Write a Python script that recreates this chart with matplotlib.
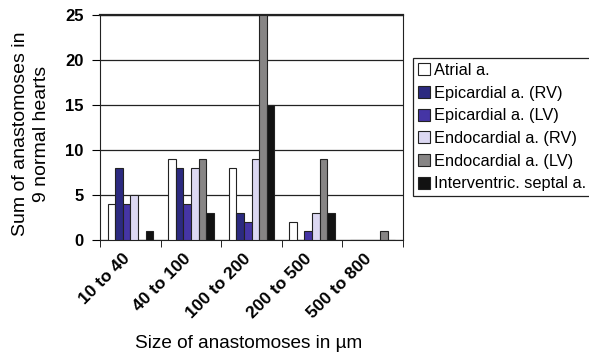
import numpy as np
import matplotlib.pyplot as plt
import matplotlib.transforms as mtransforms

plt.rcParams['font.family'] = ['Liberation Sans', 'DejaVu Sans']

categories = ["10 to 40", "40 to 100", "100 to 200", "200 to 500", "500 to 800"]
series_names = ["Atrial a.", "Epicardial a. (RV)", "Epicardial a. (LV)",
                "Endocardial a. (RV)", "Endocardial a. (LV)", "Interventric. septal a."]
atrial = [4, 9, 8, 2, 0]
epi_rv = [8, 8, 3, 0, 0]
epi_lv = [4, 4, 2, 1, 0]
endo_rv = [5, 8, 9, 3, 0]
endo_lv = [0, 9, 25, 9, 1]
septal = [1, 3, 15, 3, 0]

series = [atrial, epi_rv, epi_lv, endo_rv, endo_lv, septal]
colors = ["#ffffff", "#2c2a80", "#4535a5", "#dcd8f2", "#878585", "#121212"]

fig = plt.figure(figsize=(5.89, 3.54), dpi=100)
ax = fig.add_axes([0.170, 0.322, 0.514, 0.636])

x = np.arange(len(categories))
w = 0.126
for i, (vals, c, name) in enumerate(zip(series, colors, series_names)):
    ax.bar(x + (i - 2.5) * w, vals, width=w, color=c, edgecolor="#222222",
           linewidth=0.8, label=name, zorder=3)

ax.set_xlim(-0.5, len(categories) - 0.5)
ax.set_ylim(0, 25)
ax.set_yticks([0, 5, 10, 15, 20, 25])
ax.yaxis.grid(True, color="#222222", linewidth=0.9, zorder=0)
for s in ax.spines.values():
    s.set_color("#222222")
ax.spines['top'].set_linewidth(1.6)

# category labels sit between the group tick marks
ax.set_xticks(x)
ax.set_xticklabels(categories, rotation=45, ha='right', rotation_mode='anchor',
                   fontsize=12.5, fontweight='bold')
ax.tick_params(axis='x', which='major', length=0, pad=8)
shift = mtransforms.ScaledTranslation(-6 / 72, 0, fig.dpi_scale_trans)
for t in ax.get_xticklabels():
    t.set_transform(t.get_transform() + shift)
ax.set_xticks(np.arange(len(categories) + 1) - 0.5, minor=True)
ax.tick_params(axis='x', which='minor', length=5, direction='out')
ax.tick_params(axis='y', length=6, direction='out', labelsize=12, pad=6)
for t in ax.get_yticklabels():
    t.set_fontweight('bold')

ax.set_ylabel("Sum of anastomoses in\n9 normal hearts", fontsize=14, linespacing=1.3)
ax.yaxis.set_label_coords(-0.165, 0.471)
ax.set_xlabel("Size of anastomoses in µm", fontsize=13.7)
ax.xaxis.label.set_va('baseline')
ax.xaxis.set_label_coords(0.49, -0.48)

leg = ax.legend(loc='upper left', bbox_to_anchor=(0.701, 0.836),
                bbox_transform=fig.transFigure, fontsize=11.8, frameon=True,
                fancybox=False, edgecolor='#222222', framealpha=1,
                handlelength=0.73, handleheight=0.73, handletextpad=0.25,
                borderpad=0.3, labelspacing=0.47, borderaxespad=0)
leg.get_frame().set_linewidth(0.9)

fig.savefig("out.png", dpi=100)
